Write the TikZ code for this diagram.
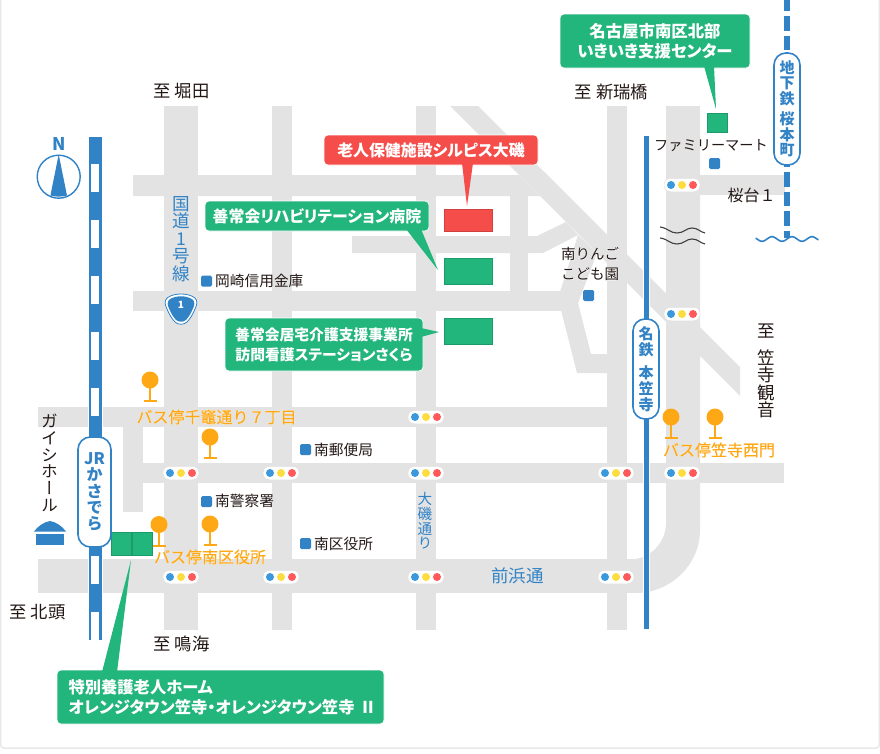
\documentclass[tikz,border=0pt]{standalone}
\usepackage{fontspec}
\setmainfont{Noto Sans CJK JP}
\newfontfamily\vfont[RawFeature=+vert]{Noto Sans CJK JP}
\newfontfamily\cofont[RawFeature=+palt]{Noto Sans CJK JP}
\newfontfamily\halofont[FakeBold=2.5]{Noto Sans CJK JP}
\newfontfamily\orafont[FakeBold=.5]{Noto Sans CJK JP}
\newcommand{\halotxt}[1]{\leavevmode\rlap{\color{white}\halofont #1}#1}
\definecolor{roadc}{HTML}{E3E3E3}
\definecolor{railc}{HTML}{3283C6}
\definecolor{greenc}{HTML}{22B57C}
\definecolor{redc}{HTML}{F44D4A}
\definecolor{orangec}{HTML}{FFA815}
\definecolor{txtc}{HTML}{231815}
\definecolor{frame}{HTML}{E8E8E8}
\tikzset{
 road/.style={fill=roadc,draw=none},
 callout/.style={rounded corners=4pt,draw=white,line width=.7pt,inner sep=0pt,text=white,font=\cofont\bfseries\fontsize{15.9}{20}\selectfont,align=center},
 greenbox/.style={callout,fill=greenc},
 redbox/.style={callout,fill=redc},
 place/.style={rectangle,inner sep=0pt,draw=#1!85!black,line width=.4pt,fill=#1},
 bsq/.style={rectangle,inner sep=0pt,minimum size=11pt,rounded corners=1.5pt,fill=railc},
 blk/.style={inner sep=0pt,text=txtc,font=\fontsize{14.7}{17}\selectfont,align=center},
 dest/.style={inner sep=0pt,text=txtc,font=\fontsize{17.3}{18}\selectfont},
 stackv/.style={inner sep=0pt,align=center,font=\vfont\fontsize{#1}{#1}\selectfont},
 bluet/.style={inner sep=0pt,text=railc},
 orangelbl/.style={inner sep=0pt,text=orangec,font=\orafont\fontsize{16}{18}\selectfont},
 station/.style={rectangle,rounded corners=12.5pt,draw=railc,line width=1.6pt,fill=white,text=railc,inner sep=0pt,align=center,font=\bfseries\fontsize{15}{16}\selectfont},
 sigbox/.style={rectangle,rounded corners=6.5pt,minimum width=36pt,minimum height=13.5pt,fill=white,draw=black!12,line width=.5pt,inner sep=0pt},
 sigdot/.style={circle,minimum size=8pt,inner sep=0pt,fill=#1},
 buscirc/.style={circle,minimum size=17pt,inner sep=0pt,fill=orangec},
 busln/.style={draw=orangec,line width=2pt},
}
\newcommand{\sigset}[3]{%
 \node[sigbox] (#1) at (#2,#3) {};
 \node[sigdot=cyan!70!blue!80] (#1a) at ([xshift=-11pt]#1.center) {};
 \node[sigdot=yellow!70!orange!75] (#1b) at (#1.center) {};
 \node[sigdot=red!65!white] (#1c) at ([xshift=11pt]#1.center) {};}
\newcommand{\busstop}[3]{%
 \node[buscirc] (#1) at (#2,#3) {};
 \coordinate (#1f) at (#2,#3+21);
 \draw[busln] (#1.center) -- (#1f);
 \draw[busln] ([xshift=-6.5pt]#1f) -- ([xshift=6.5pt]#1f);}
\begin{document}
\begin{tikzpicture}[x=1pt,y=-1pt]
\useasboundingbox (0,0) rectangle (880,753);
\fill[white] (0,0) rectangle (880,753);
\draw[frame,line width=1.5pt,rounded corners=3pt] (0.7,0) -- (0.7,748) -- (879.3,748) -- (879.3,0);
% roads
\fill[road] (164,106) rectangle (198,630);
\fill[road] (272,106) rectangle (292,630);
\fill[road] (416,106) rectangle (436,630);
\fill[road] (123,408) rectangle (143,512);
\fill[road] (607,106) rectangle (627,630);
\fill[road] (510,190) rectangle (528,295);
\fill[road] (133,175) -- (519,175) -- (540,196) -- (133,196) -- cycle;
\fill[road] (352,236) -- (537,236) -- (566,222) -- (578,235) -- (543,253) -- (352,253) -- cycle;
\fill[road] (133,291) rectangle (562,311);
\fill[road] (38,407) rectangle (627,427);
\fill[road] (123,463) rectangle (784,483);
\fill[road] (38,559) rectangle (640,593);
\fill[road] (700,175) rectangle (785,195);
\fill[road] (450,106) -- (478,106) -- (740,367) -- (740,396) -- cycle;
\fill[road] (578,235) -- (560,292) -- (561,310) -- (577,373) -- (607,373) -- (607,354) -- (591,354) -- (578,303) -- (597,253) -- cycle;
\fill[road] (666,106) -- (700,106) -- (700,530) .. controls (700,565) and (670,593) .. (636,593) -- (636,559) .. controls (650,557) and (666,543) .. (666,523) -- cycle;
% JR rail
\fill[railc,draw=white,line width=.8pt] (88,136) rectangle (102,640);
\foreach \w in {164,220,276,332,388,444,500,556}
  \fill[white] (90.6,\w) rectangle (99.4,\w+28);
\fill[white] (90.6,612) rectangle (99.4,641);
% Meitetsu rail
\fill[railc,draw=white,line width=.6pt] (643,135) rectangle (649.5,629);
% subway
\draw[railc,line width=6pt,dash pattern=on 14.5pt off 5pt] (787,-3.5) -- (787,238);
\draw[railc,line width=1.6pt,line cap=round] plot[domain=756:818,samples=63,smooth] (\x,{239-2.3*cos((\x-752)*18)});
% black waves
\draw[black!75,line width=1.1pt] (660,227) .. controls (668,228) and (670,233) .. (677,233) .. controls (684,233) and (686,228) .. (692,228) .. controls (698,228) and (700,232) .. (705,233);
\draw[black!75,line width=1.1pt] (660,238) .. controls (668,239) and (670,244) .. (677,244) .. controls (684,244) and (686,239) .. (692,239) .. controls (698,239) and (700,243) .. (705,244);
% north
\node[circle,draw=railc,line width=1.4pt,minimum size=43pt,inner sep=0pt] (north) at (58.7,176.7) {};
\fill[railc] (north.north) -- (67,195.5) .. controls (62,197) and (55,197) .. (50.4,195.5) -- cycle;
\node[inner sep=0pt,text=railc,font=\bfseries\fontsize{17.5}{18}\selectfont] (nlabel) at (58.7,143.5) {N};
% route shield
\path[fill=white,draw=railc,line width=.8pt] (181,294) .. controls (186,294) and (191,295) .. (195,298) .. controls (198,301) and (197,305) .. (195,309) .. controls (193,314) and (190,319) .. (187,322) .. controls (184,325) and (178,325) .. (175,322) .. controls (172,319) and (169,314) .. (167,309) .. controls (165,305) and (164,301) .. (167,298) .. controls (171,295) and (176,294) .. (181,294) -- cycle;
\begin{scope}[shift={(181,308.5)},xscale=.84,yscale=.84,shift={(-181,-308.5)}]
\path[fill=railc] (181,294) .. controls (186,294) and (191,295) .. (195,298) .. controls (198,301) and (197,305) .. (195,309) .. controls (193,314) and (190,319) .. (187,322) .. controls (184,325) and (178,325) .. (175,322) .. controls (172,319) and (169,314) .. (167,309) .. controls (165,305) and (164,301) .. (167,298) .. controls (171,295) and (176,294) .. (181,294) -- cycle;
\end{scope}
\node[inner sep=0pt,text=white,font=\bfseries\fontsize{10}{10}\selectfont] (r1) at (181,304.5) {1};
% vertical road names
\node[stackv=17.6,bluet] (kokudo) at (181,239) {国\\道\\1\\号\\線};
\node[stackv=14.6,bluet] (oiso) at (425,521) {大\\磯\\通\\り};
\node[bluet,font=\fontsize{17.5}{18}\selectfont] (maehama) at (517.5,576) {前浜通};
% place squares
\node[place=redc,minimum width=48pt,minimum height=22pt] (p1) at (468,220) {};
\node[place=greenc,minimum width=48pt,minimum height=26pt] (p2) at (468,271) {};
\node[place=greenc,minimum width=48pt,minimum height=26pt] (p3) at (468,331) {};
\node[place=greenc,minimum width=20pt,minimum height=19pt] (p4) at (717,122.5) {};
\node[place=greenc,minimum width=20pt,minimum height=22.5pt] (p5) at (121,543.5) {};
\node[place=greenc,minimum width=20pt,minimum height=22.5pt] (p6) at (142,543.5) {};
% callouts
\node[redbox,minimum width=214pt,minimum height=30pt] (c1) at (431,150) {老人保健施設シルピス大磯};
\node[greenbox,minimum width=224pt,minimum height=30pt] (c2) at (317,216) {善常会リハビリテーション病院};
\node[greenbox,minimum width=198pt,minimum height=53pt,font=\cofont\bfseries\fontsize{14.8}{20}\selectfont] (c3) at (324,344.5) {善常会居宅介護支援事業所\\訪問看護ステーションさくら};
\node[greenbox,minimum width=190pt,minimum height=54pt,font=\cofont\bfseries\fontsize{16.4}{20}\selectfont] (c4) at (655,41) {名古屋市南区北部\\いきいき支援センター};
\node[greenbox,minimum width=327pt,minimum height=54pt,font=\cofont\bfseries\fontsize{16.3}{20}\selectfont,align=left,text width=304pt,inner sep=0pt] (c5) at (220.5,697) {特別養護老人ホーム\\\leavevmode\rlap{オレンジタウン笠寺・オレンジタウン笠寺 Ⅱ}};
% pointers
\coordinate (t1) at (467,206);
\coordinate (t2) at (438,270);
\coordinate (t3) at (439,332);
\coordinate (t4) at (716,109);
\coordinate (t5) at (131,560);
\fill[redc] (462,163) -- (t1) -- (473,163) -- cycle;
\fill[greenc] (406,229) -- (t2) -- (421,229) -- cycle;
\fill[greenc] (421,328) -- (t3) -- (421,337) -- cycle;
\fill[greenc] (704,66) -- (t4) -- (714,66) -- cycle;
\fill[greenc] (102,672) -- (t5) -- (117,672) -- cycle;
% stations
\node[station,minimum width=33pt,minimum height=110pt,font=\bfseries\fontsize{16}{16.3}\selectfont] (jr) at (94.5,492) {JR\\か\\さ\\で\\ら};
\node[station,minimum width=26pt,minimum height=100pt,rounded corners=12pt] (meitetsu) at (646,369) {名\\鉄\\[7pt]本\\笠\\寺};
\node[station,minimum width=26pt,minimum height=112pt,rounded corners=12pt,font=\bfseries\fontsize{15}{15.5}\selectfont] (subway) at (787,109) {地\\下\\鉄\\[5pt]桜\\本\\町};
% signals
\sigset{s1}{181}{473}
\sigset{s2}{281}{473}
\sigset{s3}{181}{577}
\sigset{s4}{281}{577}
\sigset{s5}{426}{417}
\sigset{s6}{426}{473}
\sigset{s7}{426}{577}
\sigset{s8}{616}{473}
\sigset{s9}{616}{577}
\sigset{s10}{682}{473}
\sigset{s11}{682}{314}
\sigset{s12}{682}{185}
% bus stops
\busstop{b1}{150}{380}
\busstop{b2}{210}{437}
\busstop{b3}{159}{524.5}
\busstop{b4}{210}{524}
\busstop{b5}{671}{417}
\busstop{b6}{715}{417}
\node[orangelbl] (bl1) at (216.5,417) {\halotxt{バス停千竈通り７丁目}};
\node[orangelbl] (bl2) at (210,557) {\halotxt{バス停南区役所}};
\node[orangelbl] (bl3) at (719,450) {\halotxt{バス停笠寺西門}};
% facility markers + text
\node[bsq] (m1) at (206.5,281) {};
\node[blk,anchor=west] (l1) at (215,281) {岡崎信用金庫};
\node[bsq] (m2) at (206.5,501.5) {};
\node[blk,anchor=west] (l2) at (215,501) {南警察署};
\node[bsq] (m3) at (305.5,449.5) {};
\node[blk,anchor=west] (l3) at (314,449.5) {南郵便局};
\node[bsq] (m4) at (305.5,543.5) {};
\node[blk,anchor=west] (l4) at (314,543.5) {南区役所};
\node[blk,text width=62pt,font=\fontsize{14.5}{20}\selectfont] (l5) at (590,264) {\halotxt{南りんご}\\\halotxt{こども園}};
\node[bsq] (m5) at (588.5,295.5) {};
\node[blk,font=\fontsize{14.2}{17}\selectfont] (l6) at (711,146) {ファミリーマート};
\node[bsq] (m6) at (714.5,163.5) {};
\node[blk,font=\fontsize{16}{18}\selectfont] (l7) at (751.5,195) {桜台１};
% directions
\node[dest] (d1) at (181.5,91.5) {至 堀田};
\node[dest] (d2) at (611.5,92) {至 新瑞橋};
\node[dest] (d3) at (181.5,644) {至 鳴海};
\node[dest] (d4) at (37.5,612) {至 北頭};
\node[stackv=17.5,text=txtc] (d5) at (766,371) {至\\[9.5pt]笠\\寺\\観\\音};
\node[stackv=16.7,text=txtc] (gaishi) at (49.5,463) {ガ\\イ\\シ\\ホ\\ー\\ル};
% hall icon
\fill[railc] (34,531.5) .. controls (38,526) and (44,522) .. (50,521) .. controls (56,522) and (62,526) .. (66,531.5) -- cycle;
\fill[railc] (36,533.5) rectangle (64,544.5);
\end{tikzpicture}
\end{document}
